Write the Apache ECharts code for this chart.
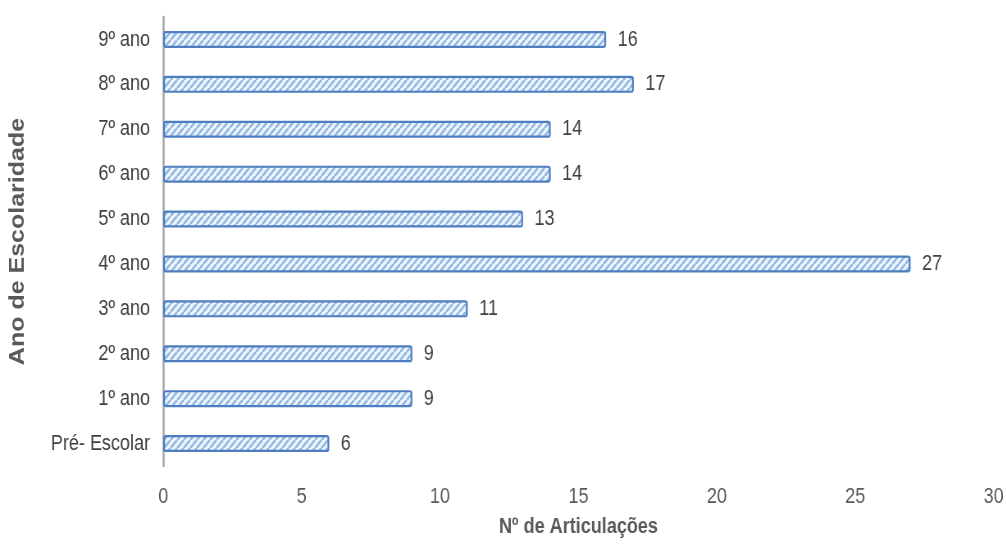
<!DOCTYPE html>
<html><head><meta charset="utf-8">
<script src="https://cdn.jsdelivr.net/npm/echarts@6/dist/echarts.min.js"></script>
<style>
html,body{margin:0;padding:0;background:#fff;overflow:hidden;width:1006px;height:544px}
#c{width:1227px;height:544px;transform:scaleX(0.82);transform-origin:0 0}
</style>
</head><body><div id="c"></div>
<script>
const categories = ['Pré- Escolar','1º ano','2º ano','3º ano','4º ano','5º ano','6º ano','7º ano','8º ano','9º ano'];
const values = [6, 9, 9, 11, 27, 13, 14, 14, 17, 16];
const xTicks = [0, 5, 10, 15, 20, 25, 30];

const pc = document.createElement('canvas');
pc.width = 8; pc.height = 8;
const g = pc.getContext('2d');
g.fillStyle = '#eef5fd'; g.fillRect(0,0,8,8);
g.strokeStyle = '#93b9e3'; g.lineWidth = 2.6;
for (let k = -8; k <= 16; k += 8) { g.beginPath(); g.moveTo(k, 8); g.lineTo(k + 8, 0); g.stroke(); }

const font = '"Liberation Sans", Arial, sans-serif';
const chart = echarts.init(document.getElementById('c'));
chart.setOption({
  animation: false,
  grid: { left: 199, right: 12, top: 17, bottom: 78, containLabel: false },
  xAxis: {
    type: 'value', min: xTicks[0], max: xTicks[xTicks.length - 1], interval: 5,
    axisLine: { show: false }, axisTick: { show: false }, splitLine: { show: false },
    axisLabel: { color: '#595959', fontSize: 22, fontFamily: font, margin: 20 },
    name: 'Nº de Articulações', nameLocation: 'middle', nameGap: 50,
    nameTextStyle: { color: '#595959', fontSize: 22, fontWeight: 'bold', fontFamily: font }
  },
  yAxis: {
    type: 'category', data: categories,
    axisLine: { show: true, lineStyle: { color: '#a6a6a6', width: 2.5 } },
    axisTick: { show: false },
    axisLabel: { color: '#404040', fontSize: 22, fontFamily: font, margin: 16 },
    name: 'Ano de Escolaridade', nameLocation: 'middle', nameGap: 164, nameRotate: 90,
    nameTextStyle: { color: '#595959', fontSize: 25, fontWeight: 'bold', fontFamily: font }
  },
  series: [{
    type: 'bar', data: values, barWidth: 17,
    itemStyle: { color: { image: pc, repeat: 'repeat' }, borderColor: '#4f7ec0', borderWidth: 2.2, borderRadius: 2 },
    label: { show: true, position: 'right', distance: 14, color: '#404040', fontSize: 22, fontFamily: font }
  }]
});
</script></body></html>
